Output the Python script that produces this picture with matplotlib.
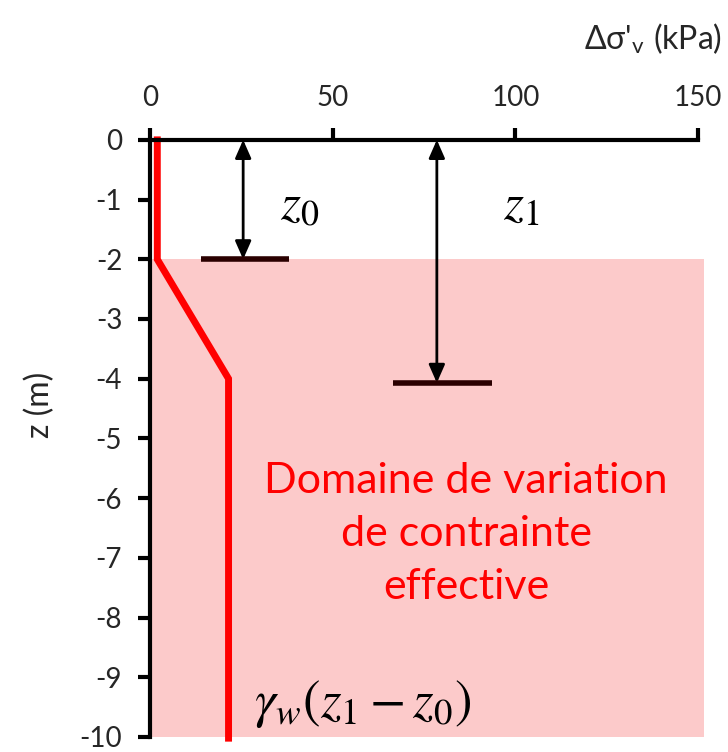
import matplotlib
matplotlib.use("Agg")
import matplotlib.pyplot as plt

plt.rcParams['font.family'] = ['Lato', 'DejaVu Sans']
plt.rcParams['mathtext.fontset'] = 'stix'
plt.rcParams['axes.unicode_minus'] = False

# data
x_ticks = [0, 50, 100, 150]
y_ticks = [0, -1, -2, -3, -4, -5, -6, -7, -8, -9, -10]
profile_x = [2, 2, 21.5, 21.5]
profile_z = [0, -2, -4, -10.02]
domain_x = [0, 151.5]
domain_top = -2
domain_bottom = -10
z0_arrow_x = 25.5
z0_level = -2
z0_bar = [14, 38]
z1_arrow_x = 78.5
z1_level = -4.07
z1_bar = [66.5, 93.5]

fig = plt.figure(figsize=(7.28, 7.52), dpi=100)
ax = fig.add_axes([0.206, 0.020, 0.753, 0.794])
ax.set_xlim(0, 150)
ax.set_ylim(-10, 0)

ax.fill_between(domain_x, domain_top, domain_bottom, color='#fccaca', lw=0, clip_on=False, zorder=1)
ax.plot(profile_x, profile_z, color='#ff0000', lw=5, solid_joinstyle='miter', clip_on=False, zorder=3)

for xa, lvl, bar in [(z0_arrow_x, z0_level, z0_bar), (z1_arrow_x, z1_level, z1_bar)]:
    ax.annotate('', xy=(xa, 0), xytext=(xa, lvl),
                arrowprops=dict(arrowstyle='<|-|>,head_length=0.5,head_width=0.22', lw=2, color='black',
                                mutation_scale=22, shrinkA=0, shrinkB=0), zorder=4)
    ax.plot(bar, [lvl, lvl], color='#2a0000', lw=4, solid_capstyle='butt', zorder=4)

ax.text(35.5, -1.1, r'$z_0$', fontsize=37, ha='left', va='center')
ax.text(96.5, -1.1, r'$z_1$', fontsize=37, ha='left', va='center')
ax.text(86.5, -6.6, 'Domaine de variation\nde contrainte\neffective', color='#ff0000',
        fontsize=31, ha='center', va='center', linespacing=1.47)
ax.text(28.5, -9.45, r'$\gamma_w(z_1 - z_0)$', fontsize=38, ha='left', va='center')

ax.xaxis.tick_top()
ax.set_xticks(x_ticks)
ax.set_yticks(y_ticks)
ax.set_xticklabels([str(v) for v in x_ticks])
ax.set_yticklabels([str(v) for v in y_ticks])
ax.tick_params(axis='both', labelsize=20, labelcolor='#262626', width=3, length=9, color='black')
ax.tick_params(axis='x', pad=12)
ax.tick_params(axis='y', pad=11)
for s in ['right', 'bottom']:
    ax.spines[s].set_visible(False)
ax.spines['top'].set_linewidth(3)
ax.spines['left'].set_linewidth(3)
ax.spines['top'].set_zorder(5)
ax.spines['left'].set_zorder(5)

fig.text(0.992, 0.949, r"Δσ'$_\mathregular{v}$ (kPa)", fontsize=23, color='#262626', ha='right', va='center')
fig.text(0.055, 0.462, 'z (m)', fontsize=23, color='#262626', ha='center', va='center', rotation=90)

fig.savefig('out.png', dpi=100)
